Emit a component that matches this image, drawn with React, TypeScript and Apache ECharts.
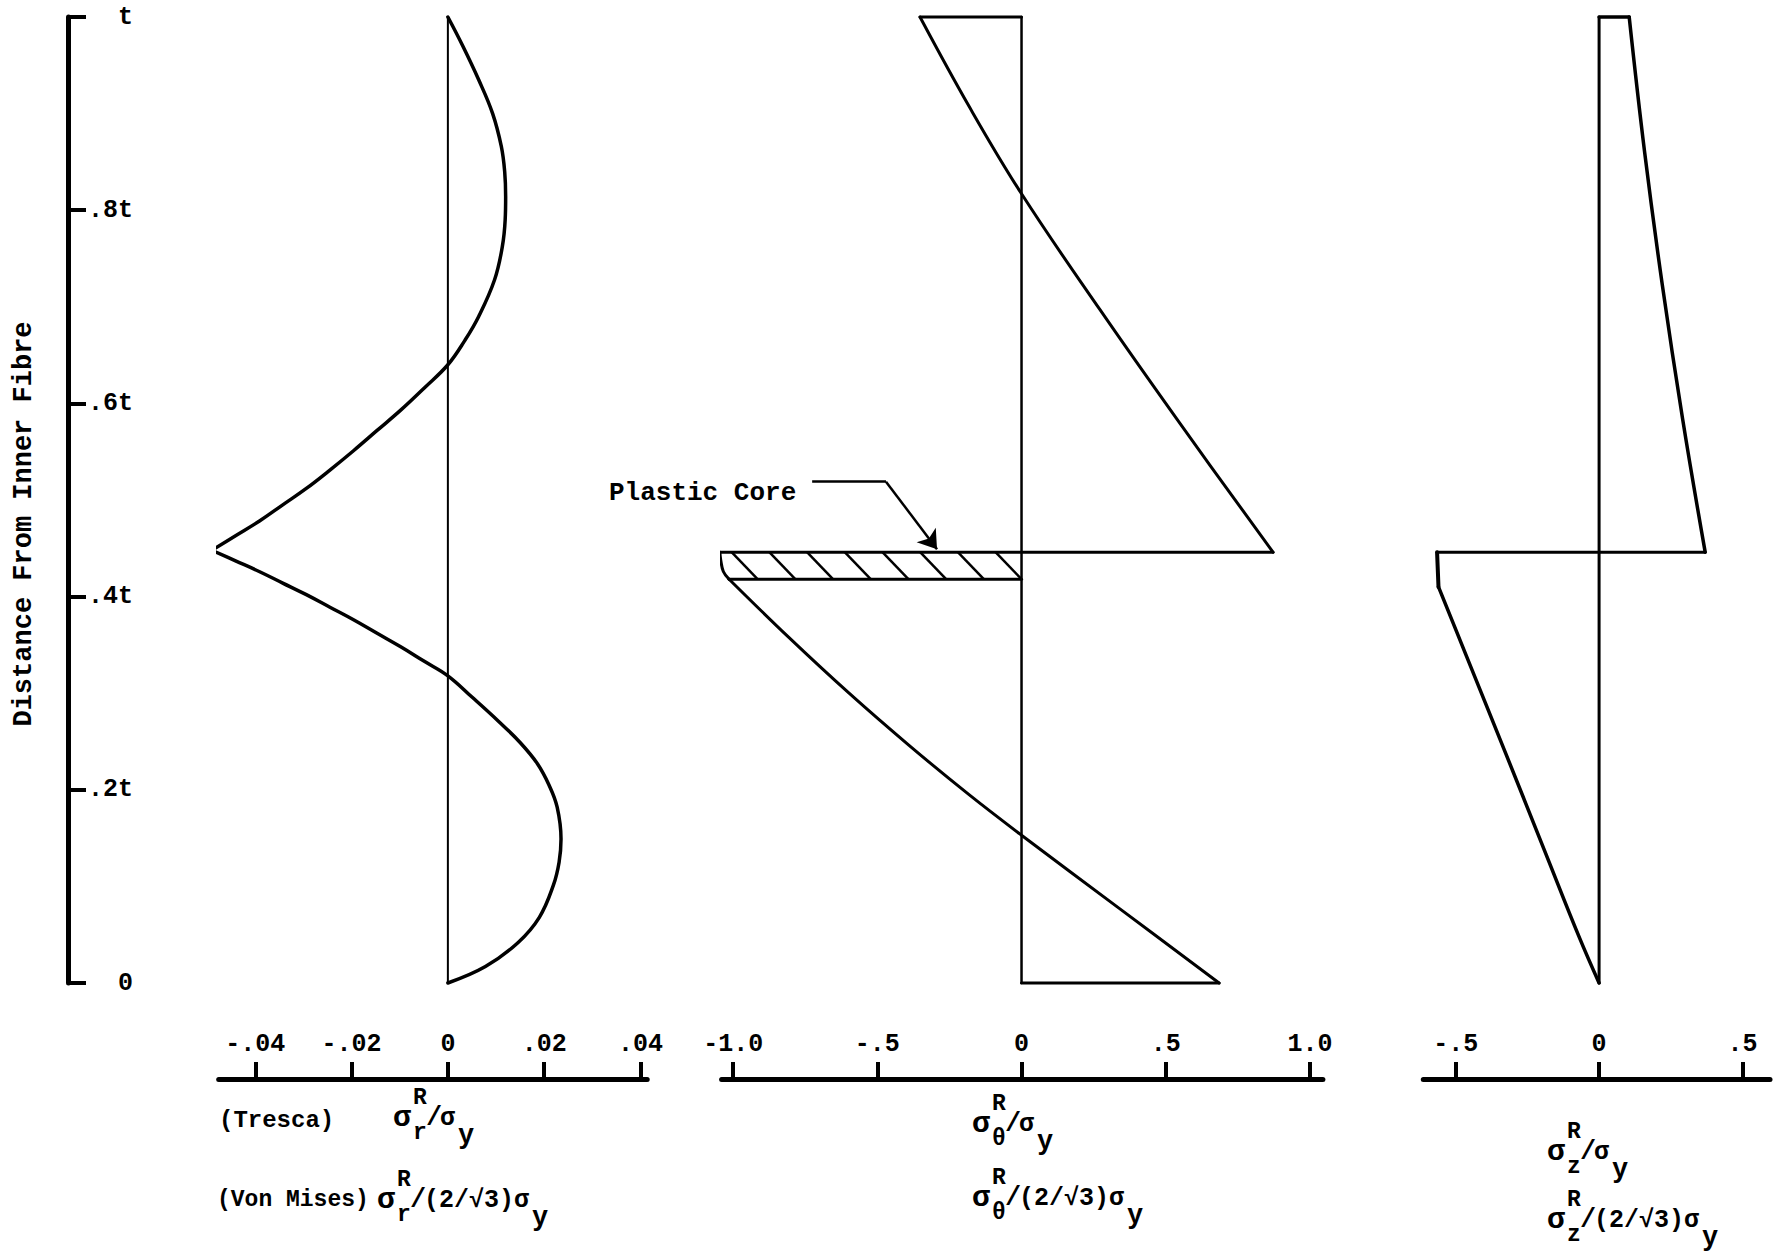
import React, { useEffect, useRef } from 'react';
import * as echarts from 'echarts';

const FONT = '"Liberation Mono", "Courier New", monospace';

// Depth through the wall, as a fraction of the wall thickness t
const depthTicks = [0, 0.2, 0.4, 0.6, 0.8, 1];
const depthTickLabels = ['0', '.2t', '.4t', '.6t', '.8t', 't'];

const radialTicks = [-0.04, -0.02, 0, 0.02, 0.04];
const radialTickLabels = ['-.04', '-.02', '0', '.02', '.04'];
const hoopTicks = [-1, -0.5, 0, 0.5, 1];
const hoopTickLabels = ['-1.0', '-.5', '0', '.5', '1.0'];
const axialTicks = [-0.5, 0, 0.5];
const axialTickLabels = ['-.5', '0', '.5'];

// Radial residual stress: [stress ratio, depth]
const radialUpper = [
  [0.0, 1.0], [0.0031, 0.97], [0.0064, 0.935], [0.0093, 0.9], [0.0111, 0.866],
  [0.0118, 0.84], [0.012, 0.814], [0.0119, 0.79], [0.0113, 0.762], [0.0097, 0.728],
  [0.0064, 0.69], [0.0035, 0.665], [0.0, 0.64], [-0.0049, 0.616], [-0.0098, 0.593],
  [-0.0147, 0.572], [-0.0196, 0.551], [-0.0245, 0.531], [-0.0294, 0.512],
  [-0.0343, 0.495], [-0.0392, 0.478], [-0.0441, 0.463], [-0.049, 0.448],
];
const radialLower = [
  [-0.049, 0.448], [-0.0441, 0.437], [-0.0392, 0.426], [-0.0343, 0.414], [-0.0294, 0.402],
  [-0.0245, 0.389], [-0.0196, 0.376], [-0.0147, 0.362], [-0.0098, 0.348], [-0.0049, 0.333],
  [0.0, 0.318], [0.005, 0.296], [0.0105, 0.271], [0.015, 0.249], [0.0186, 0.227],
  [0.021, 0.205], [0.0227, 0.182], [0.0235, 0.149], [0.0231, 0.125], [0.0219, 0.101],
  [0.019, 0.068], [0.0146, 0.042], [0.0078, 0.017], [0.0, 0.0],
];

// Hoop residual stress
const hoopUpper = [
  [-0.352, 1.0], [-0.179, 0.906], [0.0, 0.817], [0.272, 0.697], [0.55, 0.579], [0.872, 0.446],
];
const hoopLower = [
  [-1.014, 0.418], [-0.806, 0.3575], [-0.598, 0.3], [-0.39, 0.246], [-0.182, 0.195],
  [0.0, 0.153], [0.34, 0.077], [0.685, 0.0],
];
// Plastic core band: rounded inner end, top and bottom depth
const coreEnd = [[-1.046, 0.446], [-1.043, 0.438], [-1.034, 0.426], [-1.014, 0.418]];
const coreTop = 0.446;
const coreBottom = 0.418;
const coreLeader = [[-0.726, 0.519], [-0.47, 0.519], [-0.293, 0.449]];

// Axial residual stress
const axialUpper = [[0.105, 1.0], [0.1584, 0.861], [0.2205, 0.7226], [0.2913, 0.5839], [0.37, 0.446]];
const axialStep = [[-0.565, 0.446], [-0.56, 0.41]];
const axialLower = [
  [-0.56, 0.41], [-0.466, 0.341], [-0.326, 0.238], [-0.186, 0.134], [-0.07, 0.048], [0.0, 0.0],
];

const BLACK = '#000';

function pick(ticks: number[], labels: string[]) {
  return (v: number) => {
    const i = ticks.findIndex((t) => Math.abs(t - v) < 1e-6);
    return i >= 0 ? labels[i] : '';
  };
}

function line(data: number[][], axis: number, width: number, smooth = false) {
  return {
    type: 'line',
    data,
    xAxisIndex: axis,
    yAxisIndex: axis,
    showSymbol: false,
    symbol: 'none',
    smooth: smooth ? 0.4 : false,
    clip: false,
    silent: true,
    lineStyle: { color: BLACK, width, cap: 'round', join: 'round' },
  };
}

function leader(coords: number[][], arrow: boolean) {
  return {
    type: 'lines',
    coordinateSystem: 'cartesian2d',
    xAxisIndex: 1,
    yAxisIndex: 1,
    silent: true,
    symbol: arrow ? ['none', 'arrow'] : ['none', 'none'],
    symbolSize: [10, 18],
    lineStyle: { color: BLACK, width: 2.5, opacity: 1, curveness: 0 },
    data: [{ coords }],
  };
}

function xAxis(grid: number, min: number, max: number, ticks: number[], labels: string[]) {
  return {
    type: 'value',
    gridIndex: grid,
    min,
    max,
    position: 'bottom',
    offset: 96,
    axisLine: { show: true, onZero: false, lineStyle: { color: BLACK, width: 5 } },
    axisTick: { show: true, inside: true, length: 17, customValues: ticks, lineStyle: { color: BLACK, width: 4 } },
    axisLabel: {
      show: true,
      inside: true,
      margin: 22,
      customValues: ticks,
      formatter: pick(ticks, labels),
      color: BLACK,
      fontFamily: FONT,
      fontSize: 25,
      fontWeight: 'bold',
    },
    splitLine: { show: false },
  };
}

function txt(text: string, x: number, y: number, size: number) {
  return {
    type: 'text',
    x,
    y,
    style: {
      text,
      fontFamily: FONT,
      fontSize: size,
      fontWeight: 'bold',
      fill: BLACK,
      align: 'left',
      verticalAlign: 'middle',
    },
  };
}

// σ with superscript R and a component subscript, over a yield-stress term
function formula(x: number, y: number, comp: string, tail: string) {
  const tailW = tail.length * 0.6 * 25;
  return [
    txt('σ', x, y, 30),
    txt('R', x + 20, y - 20, 23),
    txt(comp, x + 20, y + 15, 23),
    txt('/', x + 33, y, 27),
    txt(tail, x + 47, y, 25),
    txt('y', x + 50 + tailW, y + 18, 27),
  ];
}

export default function App() {
  const ref = useRef<HTMLDivElement>(null);

  useEffect(() => {
    document.body.style.margin = '0';
    const chart = echarts.init(ref.current!, undefined, { renderer: 'svg' });

    // hatching across the plastic core band
    const hatchCount = 8;
    const step = -coreEnd[0][0] / hatchCount;
    const slant = 0.09;
    const hatch = Array.from({ length: hatchCount }, (_, k) => ({
      coords: [
        [-k * step - slant, coreTop],
        [-k * step, coreBottom],
      ],
    }));

    const grids = [
      { left: 218.7, top: 17, width: 428.5, height: 966 },
      { left: 721.6, top: 17, width: 601.3, height: 966 },
      { left: 1423.3, top: 17, width: 346.7, height: 966 },
    ].map((g) => ({ ...g, containLabel: false, outerBoundsMode: 'none' }));

    const tip = hoopUpper[hoopUpper.length - 1];
    const hoopBottomEnd = hoopLower[hoopLower.length - 1];
    const axialTip = axialUpper[axialUpper.length - 1];

    chart.setOption({
      animation: false,
      backgroundColor: '#fff',
      grid: grids,
      xAxis: [
        xAxis(0, -0.0476, 0.0414, radialTicks, radialTickLabels),
        xAxis(1, -1.04, 1.045, hoopTicks, hoopTickLabels),
        xAxis(2, -0.613, 0.596, axialTicks, axialTickLabels),
      ],
      yAxis: [
        {
          type: 'value',
          gridIndex: 0,
          min: 0,
          max: 1,
          interval: 0.2,
          position: 'left',
          offset: 150.7,
          axisLine: { show: true, onZero: false, lineStyle: { color: BLACK, width: 5 } },
          axisTick: { show: true, inside: true, length: 18, lineStyle: { color: BLACK, width: 4 } },
          axisLabel: {
            show: true,
            inside: true,
            align: 'right',
            margin: 65,
            padding: [12, 0, 0, 0],
            formatter: pick(depthTicks, depthTickLabels),
            color: BLACK,
            fontFamily: FONT,
            fontSize: 25,
            fontWeight: 'bold',
          },
          splitLine: { show: false },
          name: 'Distance From Inner Fibre',
          nameLocation: 'middle',
          nameRotate: 90,
          nameGap: 31,
          nameTextStyle: { color: BLACK, fontFamily: FONT, fontSize: 27, fontWeight: 'bold', padding: [0, 48, 0, 0] },
        },
        { type: 'value', gridIndex: 1, min: 0, max: 1, show: false },
        { type: 'value', gridIndex: 2, min: 0, max: 1, show: false },
      ],
      series: [
        // radial
        line([[0, 0], [0, 1]], 0, 2),
        line(radialUpper, 0, 3.5, true),
        line(radialLower, 0, 3.5, true),
        // hoop
        line([[0, 0], [0, 1]], 1, 2.5),
        line([[0, 1], hoopUpper[0]], 1, 3),
        line(hoopUpper, 1, 3, true),
        line([tip, [coreEnd[0][0], coreTop]], 1, 3),
        line(coreEnd, 1, 3, true),
        line([[coreEnd[coreEnd.length - 1][0], coreBottom], [0, coreBottom]], 1, 3),
        line(hoopLower, 1, 3, true),
        line([hoopBottomEnd, [0, 0]], 1, 3),
        {
          type: 'lines',
          coordinateSystem: 'cartesian2d',
          xAxisIndex: 1,
          yAxisIndex: 1,
          silent: true,
          symbol: ['none', 'none'],
          lineStyle: { color: BLACK, width: 2.5, opacity: 1, curveness: 0 },
          data: hatch,
        },
        leader([coreLeader[0], coreLeader[1]], false),
        leader([coreLeader[1], coreLeader[2]], true),
        // axial
        line([[0, 0], [0, 1]], 2, 3),
        line([[0, 1], axialUpper[0]], 2, 3.5),
        line(axialUpper, 2, 3.5, true),
        line([axialTip, axialStep[0]], 2, 3),
        line(axialStep, 2, 4),
        line(axialLower, 2, 3.5, true),
      ],
      graphic: [
        txt('Plastic Core', 609, 493, 26),
        txt('(Tresca)', 219, 1120, 24),
        txt('(Von Mises)', 217, 1200, 23),
        ...formula(393, 1118, 'r', 'σ'),
        ...formula(377, 1200, 'r', '(2/√3)σ'),
        ...formula(972, 1124, 'θ', 'σ'),
        ...formula(972, 1198, 'θ', '(2/√3)σ'),
        ...formula(1547, 1152, 'z', 'σ'),
        ...formula(1547, 1220, 'z', '(2/√3)σ'),
      ],
    });

    return () => chart.dispose();
  }, []);

  return <div ref={ref} style={{ width: 1786, height: 1260 }} />;
}
